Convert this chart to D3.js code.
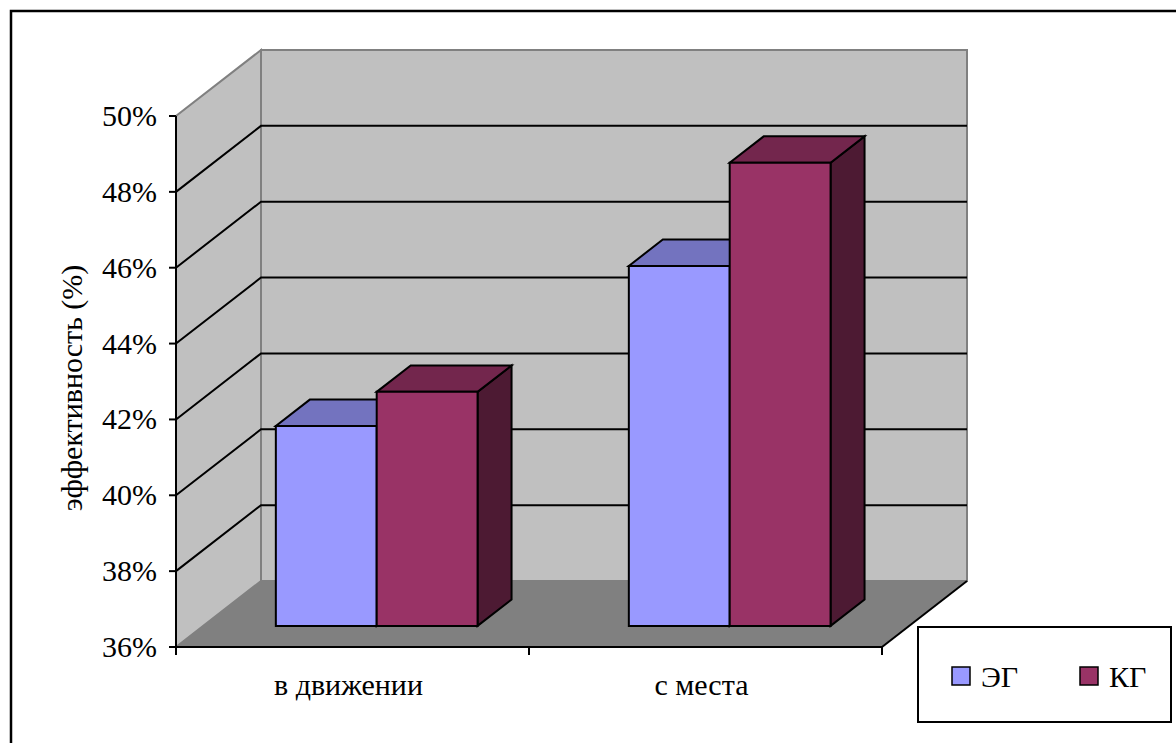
<!DOCTYPE html>
<html>
<head>
<meta charset="utf-8">
<script src="https://cdn.jsdelivr.net/npm/d3@7"></script>
</head>
<body style="margin:0">
<div id="chart"></div>
<script>
// data
const categories = ["в движении", "с места"];
const series = ["ЭГ", "КГ"];
const egValues = [41.27, 45.49];
const kgValues = [42.17, 48.21];
const yTicks = [36, 38, 40, 42, 44, 46, 48, 50];

const seriesColors = {
    "ЭГ": { front: "#9999FF", top: "#7373BF", side: "#4D4D80" },
    "КГ": { front: "#993366", top: "#73264D", side: "#4D1A33" }
};

const width = 1176, height = 743;
const depthX = 85, depthY = -66;   // offset from front plane to back wall
const barD1 = 0.32, barD2 = 0.72;  // bar depth range
const serif = "Liberation Serif";
const fontSize = 30;

const svg = d3.select("#chart").append("svg")
    .attr("width", width)
    .attr("height", height);

// outer frame (right and bottom run past the picture)
svg.append("rect")
    .attr("x", 11).attr("y", 11)
    .attr("width", 1300).attr("height", 900)
    .attr("fill", "#fff")
    .attr("stroke", "#000")
    .attr("stroke-width", 2.5);

let y = d3.scaleLinear().domain([36, 50]).range([647, 116]);
let x0 = d3.scaleBand().domain(categories).range([176, 882]).padding(0);
let x1 = d3.scaleBand().domain(series).range([-3, x0.bandwidth() - 3])
    .paddingInner(0).paddingOuter(0.75);

// project a front-plane point back by depth d (0..1)
function P(xf, v, d) {
    return [xf + depthX * d, y(v) + depthY * d];
}
let poly = pts => "M" + pts.map(p => p.join(",")).join("L") + "Z";

let yMin = 36, yMax = 50;
let xL = 176, xR = 882;

// back wall
svg.append("path")
    .attr("d", poly([P(xL, yMin, 1), P(xL, yMax, 1), P(xR, yMax, 1), P(xR, yMin, 1)]))
    .attr("fill", "#C0C0C0")
    .attr("stroke", "#808080")
    .attr("stroke-width", 2);

// left wall
svg.append("path")
    .attr("d", poly([P(xL, yMin, 0), P(xL, yMax, 0), P(xL, yMax, 1), P(xL, yMin, 1)]))
    .attr("fill", "#C0C0C0")
    .attr("stroke", "#808080")
    .attr("stroke-width", 2);

// floor
svg.append("path")
    .attr("d", poly([P(xL, yMin, 0), P(xR, yMin, 0), P(xR, yMin, 1), P(xL, yMin, 1)]))
    .attr("fill", "#808080")
    .attr("stroke", "none");
svg.append("path")
    .attr("d", "M" + P(xR, yMin, 0).join(",") + "L" + P(xR, yMin, 1).join(","))
    .attr("stroke", "#000").attr("stroke-width", 2);

// gridlines on left and back walls
yTicks.filter(t => t > yMin && t < yMax).forEach(t => {
    let a = P(xL, t, 0), b = P(xL, t, 1), c = P(xR, t, 1);
    svg.append("path")
        .attr("d", `M${a}L${b}L${c}`)
        .attr("fill", "none")
        .attr("stroke", "#000")
        .attr("stroke-width", 2);
});

// y axis
svg.append("line")
    .attr("x1", xL).attr("x2", xL)
    .attr("y1", y(yMax)).attr("y2", y(yMin))
    .attr("stroke", "#000").attr("stroke-width", 2);
yTicks.forEach(t => {
    svg.append("line")
        .attr("x1", xL - 7).attr("x2", xL)
        .attr("y1", y(t)).attr("y2", y(t))
        .attr("stroke", "#000").attr("stroke-width", 2);
    svg.append("text")
        .attr("x", 157)
        .attr("y", y(t) + 10)
        .attr("text-anchor", "end")
        .attr("font-family", serif)
        .attr("font-size", fontSize)
        .text(t + "%");
});

// x axis
svg.append("line")
    .attr("x1", xL).attr("x2", xR)
    .attr("y1", y(yMin)).attr("y2", y(yMin))
    .attr("stroke", "#000").attr("stroke-width", 2);
let xTickPos = categories.map(c => x0(c)).concat([xR]);
xTickPos.forEach(px => {
    svg.append("line")
        .attr("x1", px).attr("x2", px)
        .attr("y1", y(yMin)).attr("y2", y(yMin) + 8)
        .attr("stroke", "#000").attr("stroke-width", 2);
});
categories.forEach(c => {
    svg.append("text")
        .attr("x", x0(c) + x0.bandwidth() / 2 - 4)
        .attr("y", 695)
        .attr("text-anchor", "middle")
        .attr("font-family", serif)
        .attr("font-size", fontSize)
        .text(c);
});

// y axis title
svg.append("text")
    .attr("transform", "translate(82,388) rotate(-90)")
    .attr("text-anchor", "middle")
    .attr("font-family", serif)
    .attr("font-size", fontSize)
    .text("эффективность (%)");

// bars
let barData = [];
categories.forEach((c, i) => {
    barData.push({ cat: c, ser: "ЭГ", value: egValues[i] });
    barData.push({ cat: c, ser: "КГ", value: kgValues[i] });
});

let bars = svg.append("g").attr("class", "bars");
barData.forEach(d => {
    let xa = x0(d.cat) + x1(d.ser);
    let xb = xa + x1.bandwidth();
    let v = d.value;
    let col = seriesColors[d.ser];
    let g = bars.append("g");
    g.append("path")
        .attr("d", poly([P(xb, yMin, barD1), P(xb, yMin, barD2), P(xb, v, barD2), P(xb, v, barD1)]))
        .attr("fill", col.side);
    g.append("path")
        .attr("d", poly([P(xa, v, barD1), P(xb, v, barD1), P(xb, v, barD2), P(xa, v, barD2)]))
        .attr("fill", col.top);
    g.append("path")
        .attr("d", poly([P(xa, yMin, barD1), P(xb, yMin, barD1), P(xb, v, barD1), P(xa, v, barD1)]))
        .attr("fill", col.front);
    g.selectAll("path")
        .attr("stroke", "#000")
        .attr("stroke-width", 2);
});

// legend
let legend = svg.append("g").attr("class", "legend");
legend.append("rect")
    .attr("x", 918).attr("y", 627)
    .attr("width", 253).attr("height", 95)
    .attr("fill", "#fff")
    .attr("stroke", "#000")
    .attr("stroke-width", 2);
let legendX = [952, 1080];
series.forEach((s, i) => {
    let g = legend.append("g")
        .attr("transform", `translate(${legendX[i]}, 667)`);
    g.append("rect")
        .attr("width", 18).attr("height", 18)
        .attr("fill", seriesColors[s].front)
        .attr("stroke", "#000")
        .attr("stroke-width", 1.5);
    g.append("text")
        .attr("x", 29)
        .attr("y", 20)
        .attr("font-family", serif)
        .attr("font-size", fontSize)
        .text(s);
});
</script>
</body>
</html>
